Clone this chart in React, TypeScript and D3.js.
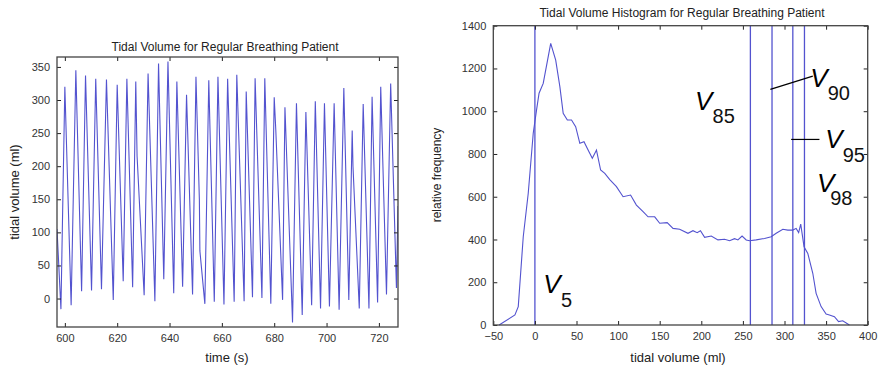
import * as d3 from "d3";
import { useEffect, useRef } from "react";

// ---- left panel: breathing trace (turning points)
const waveTime = [
  597, 598.5, 600.0, 602.4, 604.2, 606.4, 607.9, 610.2, 611.8, 614.0, 615.9,
  618.5, 620.0, 622.3, 623.7, 625.9, 627.1, 627.6, 630.3, 631.8, 634.4, 635.8,
  637.8, 639.4, 641.6, 642.8, 645.0, 646.5, 648.8, 650.1, 651.4, 651.6, 653.5,
  655.0, 657.1, 658.5, 660.8, 662.2, 664.7, 665.7, 668.5, 669.3, 671.7, 672.7,
  675.3, 676.4, 678.7, 680.0, 680.6, 683.2, 684.1, 687.0, 688.5, 690.7, 692.1,
  694.3, 695.7, 697.7, 699.2, 701.1, 702.9, 704.8, 706.6, 708.5, 709.8, 710.1,
  712.5, 714.0, 716.2, 717.4, 719.5, 720.7, 722.9, 724.5, 726.7, 727.3,
];
const waveVolume = [
  105, -16, 320, -10, 345, 11, 337, 12, 332, 14, 331,
  -2, 323, 26, 332, 17, 328, 215, 5, 340, -4, 355,
  29, 358, 8, 328, 18, 308, 6, 335, 150, 72, -8,
  330, -5, 335, -9, 332, -5, 338, -4, 313, 2, 333,
  1, 333, -8, 304, 255, -2, 289, -36, 295, -25, 282,
  -10, 298, -15, 295, -12, 295, -17, 318, -2, 254, 200,
  -15, 294, -15, 305, -6, 320, 6, 325, 16, 140,
];
const timeTicks = [600, 620, 640, 660, 680, 700, 720];
const volumeTicks = [0, 50, 100, 150, 200, 250, 300, 350];

// ---- right panel: histogram of tidal volume
const histVolume = [
  -43, -24, -20, -14, -8, -2, 2, 5, 10, 19, 25, 30, 34, 39, 44, 49, 54, 59, 65,
  69, 74, 79, 84, 90, 98, 106, 115, 122, 130, 136, 144, 150, 159, 166, 174, 184,
  190, 195, 199, 204, 212, 220, 228, 234, 240, 244, 249, 254, 258, 266, 276,
  284, 290, 298, 304, 310, 314, 317, 319.5, 323.5, 328, 334, 338, 344, 350, 354,
  360, 365, 370, 378,
];
const histFreq = [
  0, 47, 86, 413, 616, 897, 1006, 1084, 1130, 1317, 1239, 1115, 990, 959, 959,
  928, 850, 857, 810, 780, 818, 725, 709, 680, 647, 600, 608, 561, 530, 506,
  506, 476, 479, 452, 448, 429, 441, 432, 441, 410, 416, 398, 401, 394, 404,
  398, 416, 398, 394, 398, 405, 413, 429, 448, 444, 444, 452, 432, 472, 366,
  335, 242, 148, 86, 51, 47, 39, 16, 20, 0,
];
const histXTicks = [-50, 0, 50, 100, 150, 200, 250, 300, 350, 400];
const histYTicks = [0, 200, 400, 600, 800, 1000, 1200, 1400];

// percentile markers
const pctNames = ["5", "85", "90", "95", "98"];
const pctVolume = [0, 259, 285, 310, 324];

const LINE = "#5353cf";
const FONT = "'Liberation Sans', Arial, Helvetica, sans-serif";

export default function App() {
  const ref = useRef<SVGSVGElement>(null);

  useEffect(() => {
    if (!ref.current) return;
    const svg = d3.select(ref.current);
    svg.selectAll("*").remove();

    const tickLen = 4;
    const fmt = d3.format("d");

    // draws a MATLAB-ish box with inward ticks on all sides
    const drawBox = (
      x: d3.ScaleLinear<number, number>,
      y: d3.ScaleLinear<number, number>,
      xt: number[],
      yt: number[]
    ) => {
      const [x0, x1] = x.range();
      const [y0, y1] = y.range(); // y0 bottom, y1 top
      const g = svg.append("g");

      g.append("g")
        .attr("transform", `translate(0,${y0})`)
        .call(d3.axisBottom(x).tickValues(xt).tickFormat(fmt).tickSizeInner(-tickLen).tickSizeOuter(0).tickPadding(7));
      g.append("g")
        .attr("transform", `translate(0,${y1})`)
        .call(d3.axisTop(x).tickValues(xt).tickSizeInner(-tickLen).tickSizeOuter(0).tickFormat(() => ""));
      g.append("g")
        .attr("transform", `translate(${x0},0)`)
        .call(d3.axisLeft(y).tickValues(yt).tickFormat(fmt).tickSizeInner(-tickLen).tickSizeOuter(0).tickPadding(7));
      g.append("g")
        .attr("transform", `translate(${x1},0)`)
        .call(d3.axisRight(y).tickValues(yt).tickSizeInner(-tickLen).tickSizeOuter(0).tickFormat(() => ""));

      g.selectAll(".domain").remove();
      g.selectAll(".tick line").attr("stroke", "#222").attr("stroke-width", 1);
      g.selectAll(".tick text")
        .attr("fill", "#333")
        .style("font-family", FONT)
        .style("font-size", "11px");

      g.append("rect")
        .attr("x", x0)
        .attr("y", y1)
        .attr("width", x1 - x0)
        .attr("height", y0 - y1)
        .attr("fill", "none")
        .attr("stroke", "#444")
        .attr("stroke-width", 1.3);
    };

    const addText = (
      tx: number,
      ty: number,
      s: string,
      size: number,
      rotate = false
    ) =>
      svg
        .append("text")
        .attr("transform", `translate(${tx},${ty})${rotate ? " rotate(-90)" : ""}`)
        .attr("text-anchor", "middle")
        .attr("fill", "#222")
        .style("font-family", FONT)
        .style("font-size", `${size}px`)
        .text(s);

    // -----------------------------
    // Left: tidal volume over time
    const xL = d3.scaleLinear().domain([597, 727.3]).range([57, 398]);
    const yL = d3.scaleLinear().domain([-43, 365]).range([327, 57]);

    const clip = svg.append("clipPath").attr("id", "clipL");
    clip.append("rect").attr("x", 57).attr("y", 57).attr("width", 341).attr("height", 270);

    const wave = d3
      .line<number>()
      .x((_, i) => xL(waveTime[i]))
      .y((d) => yL(d));

    svg
      .append("path")
      .attr("clip-path", "url(#clipL)")
      .attr("d", wave(waveVolume))
      .attr("fill", "none")
      .attr("stroke", LINE)
      .attr("stroke-width", 1.1);

    drawBox(xL, yL, timeTicks, volumeTicks);

    addText(225, 51, "Tidal Volume for Regular Breathing Patient", 12);
    addText(227, 362, "time (s)", 13);
    addText(19, 192, "tidal volume (ml)", 13, true);

    // -----------------------------
    // Right: histogram
    const xR = d3.scaleLinear().domain([-50, 400]).range([493.3, 867.7]);
    const yR = d3.scaleLinear().domain([0, 1400]).range([325, 25.7]);

    svg
      .append("path")
      .attr(
        "d",
        d3
          .line<number>()
          .x((_, i) => xR(histVolume[i]))
          .y((d) => yR(d))(histFreq)
      )
      .attr("fill", "none")
      .attr("stroke", LINE)
      .attr("stroke-width", 1.1);

    svg
      .selectAll(".pct")
      .data(pctVolume)
      .join("line")
      .attr("class", "pct")
      .attr("x1", (d) => xR(d))
      .attr("x2", (d) => xR(d))
      .attr("y1", yR(0))
      .attr("y2", yR(1400))
      .attr("stroke", LINE)
      .attr("stroke-width", 1.3);

    drawBox(xR, yR, histXTicks, histYTicks);

    addText(682, 17, "Tidal Volume Histogram for Regular Breathing Patient", 12);
    addText(678, 362, "tidal volume (ml)", 13);
    addText(441, 175, "relative frequency", 12, true);

    // percentile labels in data coords: V origin, subscript origin
    const labelPos = [
      { v: 10, f: 148, sv: 31.5, sf: 86 },
      { v: 192.5, f: 1006, sv: 213.5, sf: 943 },
      { v: 331, f: 1113, sv: 352, sf: 1052 },
      { v: 349, f: 828, sv: 370, sf: 762 },
      { v: 339, f: 622, sv: 355, sf: 561 },
    ];
    labelPos.forEach((p, i) => {
      svg
        .append("text")
        .attr("x", xR(p.v))
        .attr("y", yR(p.f))
        .attr("fill", "#000")
        .style("font-family", FONT)
        .style("font-style", "italic")
        .style("font-size", "26px")
        .text("V");
      svg
        .append("text")
        .attr("x", xR(p.sv))
        .attr("y", yR(p.sf))
        .attr("fill", "#111")
        .style("font-family", FONT)
        .style("font-size", "20px")
        .text(pctNames[i]);
    });

    // leader lines
    svg
      .append("line")
      .attr("x1", xR(283))
      .attr("y1", yR(1102))
      .attr("x2", xR(334))
      .attr("y2", yR(1164))
      .attr("stroke", "#000")
      .attr("stroke-width", 1.2);
    svg
      .append("line")
      .attr("x1", xR(308))
      .attr("y1", yR(868))
      .attr("x2", xR(342))
      .attr("y2", yR(868))
      .attr("stroke", "#000")
      .attr("stroke-width", 1.2);
  }, []);

  return (
    <svg
      ref={ref}
      width={880}
      height={370}
      style={{ position: "absolute", left: 0, top: 0, background: "#fff" }}
    />
  );
}
